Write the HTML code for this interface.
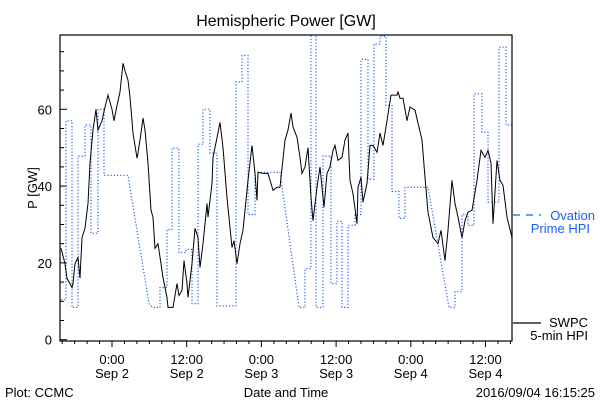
<!DOCTYPE html>
<html><head><meta charset="utf-8"><style>
html,body{margin:0;padding:0;background:#fff;}
svg{display:block;font-family:"Liberation Sans",sans-serif;}
</style></head><body>
<svg id="chart" width="600" height="400" viewBox="0 0 600 400">
<text x="286" y="26" font-size="16" text-anchor="middle">Hemispheric Power [GW]</text>
<text transform="translate(37,188) rotate(-90)" font-size="13" text-anchor="middle">P [GW]</text>
<text x="286" y="397" font-size="13" text-anchor="middle">Date and Time</text>
<text x="5" y="397" font-size="13">Plot: CCMC</text>
<text x="595" y="397" font-size="13" text-anchor="end">2016/09/04 16:15:25</text>
<g id="axes"></g>
<defs><clipPath id="pc"><rect x="60" y="35" width="452" height="306"/></clipPath></defs>
<g id="series" clip-path="url(#pc)"></g>
<rect x="60" y="35" width="452" height="306" fill="none" stroke="#000" stroke-width="1.2"/>
<g>
<line x1="513" y1="215" x2="541" y2="215" stroke="#1a5cff" stroke-width="1.2" stroke-dasharray="7,6"/>
<text x="595" y="220" font-size="13" fill="#1a5cff" text-anchor="end">Ovation</text>
<text x="590" y="233" font-size="13" fill="#1a5cff" text-anchor="end">Prime HPI</text>
</g>
<g>
<line x1="513" y1="323" x2="541" y2="323" stroke="#000" stroke-width="1.2"/>
<text x="588" y="327" font-size="13" text-anchor="end">SWPC</text>
<text x="588" y="340" font-size="13" text-anchor="end">5-min HPI</text>
</g>
</svg>
<script>
const yTicks = [0, 20, 40, 60];
const xTickHours = [0, 12, 24, 36, 48, 60];
const xTickTimes = ["0:00", "12:00", "0:00", "12:00", "0:00", "12:00"];
const xTickDates = ["Sep 2", "Sep 2", "Sep 3", "Sep 3", "Sep 4", "Sep 4"];
const swpcHours = [-8.19,-7.55,-7.23,-6.43,-6.27,-5.94,-5.46,-5.14,-4.82,-4.34,-3.86,-3.53,-3.05,-2.57,-2.25,-1.61,-1.12,-0.64,0,0.32,0.80,1.29,1.77,2.09,2.57,2.89,3.37,4.02,4.18,4.66,4.98,5.30,5.78,6.27,6.59,6.91,7.39,7.87,8.19,8.84,9.00,9.80,10.44,10.76,11.24,11.57,12.05,12.21,12.85,13.33,13.82,14.14,14.62,15.26,15.42,16.06,16.22,16.55,17.35,17.83,18.47,19.28,19.60,20.08,20.56,21.04,21.85,22.49,22.97,23.29,23.45,24.26,25.06,25.86,26.51,26.99,27.79,28.27,28.75,29.08,29.72,30.20,30.52,31.00,31.49,31.97,32.29,32.93,33.41,33.73,34.06,34.54,35.02,35.50,35.82,36.30,36.95,37.43,37.91,38.23,38.71,39.36,39.52,40.00,40.32,40.96,41.45,41.93,42.57,43.05,43.53,44.18,44.82,45.78,45.94,46.26,46.75,47.39,47.87,48.67,49.16,49.80,50.28,50.76,51.57,52.37,52.85,53.49,53.98,54.62,55.10,55.58,56.22,56.71,57.19,57.83,58.63,59.28,59.92,60.40,60.88,61.20,61.85,62.33,62.81,63.45,64.26];
const swpcValues = [23.8,19.8,16,13.6,14.6,19.8,21.4,16,26.6,29,35.5,46,54.6,60,54.6,57,60.6,63.7,60,57,61,64.5,72,70,67.6,63.2,53.8,47.3,48.6,53.8,57.7,54.6,46,33.7,31.9,23.8,25,19.8,16.2,11,8.4,8.4,14.6,11.5,12.8,20.6,14.6,11,19.8,29,26.6,18.8,25,35.5,31.9,40.7,47.5,50,56.6,50,37,24,25.8,19.8,25,28.5,41.5,50.6,43.3,36.3,43.6,43.3,43.3,38.9,39.7,39.7,52,54.6,59,55.4,52.7,47.5,43.3,45,50,37,31,39.7,45,39.7,34.5,43.3,45,49.3,50.6,46.7,47.5,52,53.8,41.5,38,30.2,39.7,42.3,35.8,40.7,50.6,50.6,48.8,53.8,50.6,57,63.7,63.7,64.5,62.9,62.9,57,60.6,59.8,56.4,52,42.3,33.2,26.6,25,28.5,20.6,28.5,41.5,35.5,31.9,26.6,31,33.2,33.7,41.5,49.3,47.5,49.3,46,30.2,46.7,41.5,40.2,31.9,26.6];
const ovationHours = [-8.19,-7.39,-7.39,-6.43,-6.43,-5.46,-5.46,-4.34,-4.34,-3.37,-3.37,-2.25,-2.25,-1.29,-1.29,2.57,5.94,6.5,7.71,7.71,8.84,8.84,9.64,9.64,10.76,10.76,11.89,11.89,12.85,12.85,13.82,13.82,14.62,14.62,15.74,15.74,16.87,16.87,19.92,19.92,20.88,20.88,21.85,21.85,22.97,22.97,26.99,30.04,31.00,31.00,31.97,31.97,32.77,32.77,33.89,33.89,35.18,35.18,36.14,36.14,36.95,36.95,37.91,37.91,39.04,39.04,40.00,40.00,41.12,41.12,42.09,42.09,43.05,43.05,44.01,44.01,44.98,44.98,46.10,46.10,47.07,47.07,50.76,54.14,55.10,55.10,56.22,56.22,57.19,57.19,58.15,58.15,59.44,59.44,60.40,60.40,62.17,62.17,63.29,63.29,64.26];
const ovationValues = [10.4,10.4,57,57,8.4,8.4,47.8,47.8,55.9,55.9,27.7,27.7,60,60,42.8,42.8,9.4,8.4,8.4,13.6,13.6,28.7,28.7,49.9,49.9,22.7,22.7,23.5,23.5,9.4,9.4,50.9,50.9,60,60,48.6,48.6,8.8,8.8,67.1,67.1,74,74,32.6,32.6,43.6,43.6,8.4,8.4,18.5,18.5,85,85,8.4,8.4,47.8,47.8,14.6,14.6,30.8,30.8,8.4,8.4,29.8,29.8,32.6,32.6,73,73,41.8,41.8,77,77,79,79,61,61,38.6,38.6,31.6,31.6,39.7,39.7,8.4,8.4,12.5,12.5,32.6,32.6,29.8,29.8,64,64,54,54,35.8,35.8,76.2,76.2,55.9,55.9];

const NS = "http://www.w3.org/2000/svg";
const X0 = 112, PXH = 74.7 / 12, Y0 = 339.7, PYV = 3.84;
function xs(h) { return X0 + h * PXH; }
function ys(v) { return Y0 - v * PYV; }
function mk(tag, attrs, parent) {
  const e = document.createElementNS(NS, tag);
  for (const k in attrs) e.setAttribute(k, attrs[k]);
  parent.appendChild(e);
  return e;
}
const axes = document.getElementById('axes');
const series = document.getElementById('series');
for (let v = 0; v <= 75; v += 5) {
  const major = v % 20 === 0;
  const t = mk('line', {x1: 60, x2: 60 + (major ? 7 : 4), y1: ys(v), y2: ys(v), stroke: '#000'}, axes);
  
  
}
yTicks.forEach(v => {
  const t = mk('text', {x: 52, y: ys(v) + 5, 'font-size': 13, 'text-anchor': 'end'}, axes);
  t.textContent = String(v);
  
  
});
for (let h = -8; h <= 64; h += 2) {
  const major = h % 12 === 0;
  const t = mk('line', {x1: xs(h), x2: xs(h), y1: 341, y2: 341 + (major ? 6 : 3), stroke: '#000'}, axes);
  
  
}
xTickHours.forEach((h, i) => {
  const t1 = mk('text', {x: xs(h), y: 364, 'font-size': 13, 'text-anchor': 'middle'}, axes);
  t1.textContent = xTickTimes[i];
  
  
  const t2 = mk('text', {x: xs(h), y: 378, 'font-size': 13, 'text-anchor': 'middle'}, axes);
  t2.textContent = xTickDates[i];
  
  
});
const ovPts = ovationHours.map((h, i) => xs(h).toFixed(1) + ',' + ys(ovationValues[i]).toFixed(1)).join(' ');
const ov = mk('polyline', {points: ovPts, fill: 'none', stroke: '#1a5cff', 'stroke-width': 1.2, 'stroke-dasharray': '1.2,2'}, series);


const swPts = swpcHours.map((h, i) => xs(h).toFixed(1) + ',' + ys(swpcValues[i]).toFixed(1)).join(' ');
const sw = mk('polyline', {points: swPts, fill: 'none', stroke: '#000', 'stroke-width': 1}, series);


</script>
</body></html>
